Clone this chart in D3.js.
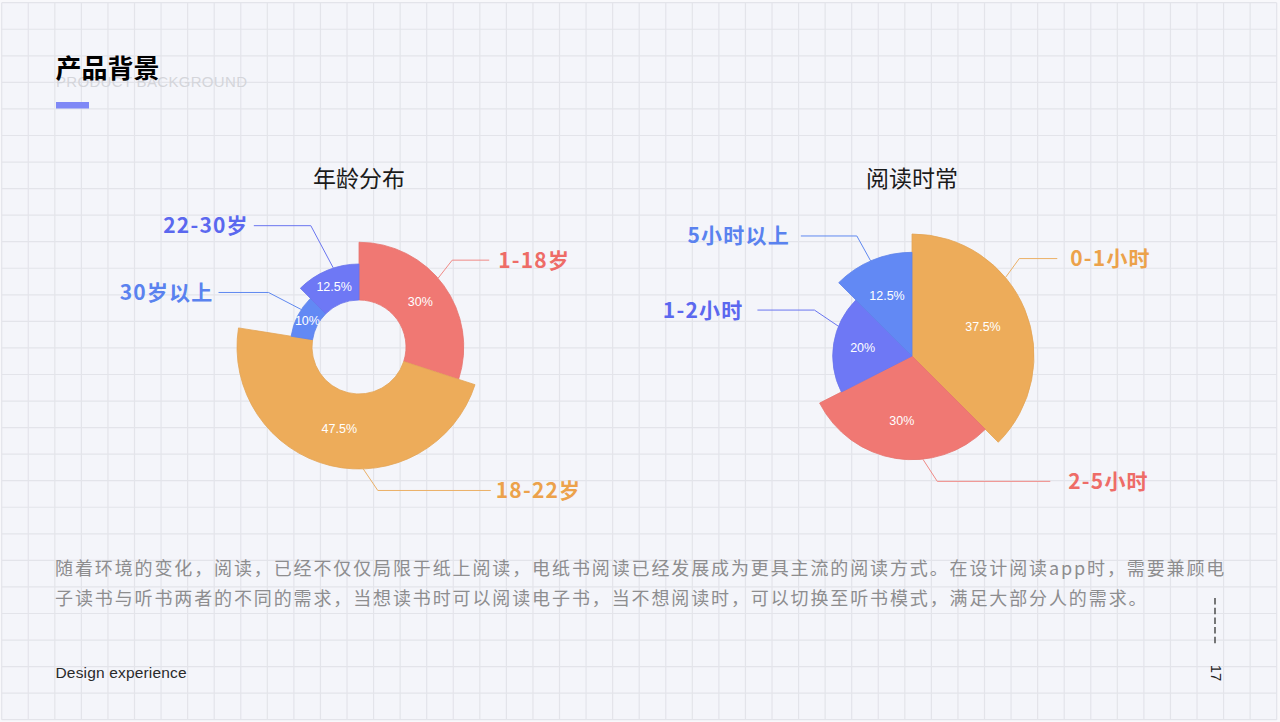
<!DOCTYPE html>
<html><head><meta charset="utf-8">
<script src="https://cdn.jsdelivr.net/npm/d3@7"></script>
<style>html,body{margin:0;padding:0;background:#f8f8fb;} svg{display:block;}</style>
</head><body>
<svg id="c" width="1280" height="722"></svg>
<script>
// ---------- data ----------
const ageCategories = ["1-18岁", "18-22岁", "30岁以上", "22-30岁"];
const agePercent = [30, 47.5, 10, 12.5];
const ageRose = [77, 100, 29, 48];          // rose radius magnitude
const timeCategories = ["0-1小时", "2-5小时", "1-2小时", "5小时以上"];
const timePercent = [37.5, 30, 20, 12.5];
const timeRose = [100, 85, 65, 85];         // rose radius magnitude
const chartTitles = ["年龄分布", "阅读时常"];
const pageTitle = "产品背景";
const pageSubtitle = "PRODUCT BACKGROUND";
const paragraphLines = [
  "随着环境的变化，阅读，已经不仅仅局限于纸上阅读，电纸书阅读已经发展成为更具主流的阅读方式。在设计阅读app时，需要兼顾电",
  "子读书与听书两者的不同的需求，当想读书时可以阅读电子书，当不想阅读时，可以切换至听书模式，满足大部分人的需求。"
];
const footerText = "Design experience";
const pageNumber = "17";

// ---------- styles ----------
const C = {red:"#f07873", orange:"#edac5a", indigo:"#6e78f5", blue:"#6289f4"};
const TXT = {red:"#ee6c67", orange:"#eca24b", indigo:"#5b68ef", blue:"#5a82ef"};
const LINE = {red:"#f08a86", orange:"#ebb067", indigo:"#6a75f0", blue:"#5f88f0"};
const CJK = "'Noto Sans CJK SC','Noto Sans',sans-serif";

const svg = d3.select("#c");

// ---------- grid background ----------
const gx0 = 1.7, gy0 = 2.7, stepX = 1275/48, stepY = 717/27;
const xs = d3.range(49).map(i => gx0 + i*stepX);
const ys = d3.range(28).map(i => gy0 + i*stepY);
svg.append("rect").attr("x", gx0).attr("y", gy0)
  .attr("width", xs[48]-gx0).attr("height", ys[27]-gy0).attr("fill", "#f4f5fa");
const grid = svg.append("g").attr("stroke", "#e3e4ea").attr("stroke-width", 1.2);
grid.selectAll("line.v").data(xs).join("line").attr("class","v")
  .attr("x1", d=>d).attr("x2", d=>d).attr("y1", gy0).attr("y2", ys[27]);
grid.selectAll("line.h").data(ys).join("line").attr("class","h")
  .attr("y1", d=>d).attr("y2", d=>d).attr("x1", gx0).attr("x2", xs[48]);

// ---------- header ----------
svg.append("text").attr("x", 56).attr("y", 81).text(pageSubtitle)
  .attr("font-family", "'Liberation Sans',Arial,sans-serif").attr("font-size", 15)
  .attr("fill", "#d4d5da").attr("textLength", 191).attr("dominant-baseline", "central");
svg.append("text").attr("x", 55.5).attr("y", 66).text(pageTitle)
  .attr("font-family", CJK).attr("font-weight", 700).attr("font-size", 26)
  .attr("fill", "#000").attr("dominant-baseline", "central");
svg.append("rect").attr("x", 56).attr("y", 102).attr("width", 33).attr("height", 6.5).attr("fill", "#7f88f6");

// ---------- charts ----------
function polar(cx, cy, deg, r){ const a = deg*Math.PI/180; return [cx + r*Math.sin(a), cy - r*Math.cos(a)]; }

function drawRose(cfg){
  const data = cfg.cats.map((c,i) => ({c, p:cfg.pct[i], m:cfg.rose[i]}));
  const pie = d3.pie().sort(null).value(d => d.p);
  const rScale = d3.scaleLinear().domain([0,100]).range([cfg.r0, cfg.r1]);
  const arcs = pie(data);
  const arc = d3.arc().innerRadius(cfg.r0).outerRadius(d => rScale(d.data.m));
  const g = svg.append("g").attr("transform", `translate(${cfg.cx},${cfg.cy})`);
  g.selectAll("path.s").data(arcs).join("path").attr("class","s")
    .attr("d", arc)
    .attr("fill", d => C[cfg.color[d.data.c]])
    .attr("stroke", d => d3.color(C[cfg.color[d.data.c]]).darker(0.12))
    .attr("stroke-width", 0.8);
  // percent labels
  g.selectAll("text.p").data(arcs).join("text").attr("class","p")
    .attr("transform", d => {
      let p;
      if (cfg.r0 > 0) p = arc.centroid(d);
      else { const mid = (d.startAngle + d.endAngle)/2*180/Math.PI; p = polar(0,0,mid, rScale(d.data.m)*0.63); }
      return `translate(${p[0]},${p[1]})`;
    })
    .attr("text-anchor","middle").attr("dominant-baseline","central")
    .attr("font-family","'Liberation Sans',Arial,sans-serif").attr("font-size", 12.5)
    .attr("fill","#fff").text(d => d.data.p + "%");
  // leader lines + category labels
  arcs.forEach(d => {
    const L = cfg.leader[d.data.c];
    const r = rScale(d.data.m);
    const p0 = polar(cfg.cx, cfg.cy, L.a, r);
    const p1 = polar(p0[0], p0[1], L.b, L.len1);
    const p2 = [p1[0] + L.len2, p1[1]];
    svg.append("path").attr("d", d3.line()([p0,p1,p2]))
      .attr("fill","none").attr("stroke", LINE[cfg.color[d.data.c]]).attr("stroke-width", 1);
    const right = L.len2 > 0;
    svg.append("text").attr("x", p2[0] + (right ? L.gap : -L.gap)).attr("y", p2[1] - 1.5)
      .attr("text-anchor", right ? "start" : "end").attr("dominant-baseline","central")
      .attr("font-family", CJK).attr("font-weight", 700).attr("font-size", 21)
      .attr("letter-spacing", 1.2)
      .attr("fill", TXT[cfg.color[d.data.c]]).text(d.data.c);
  });
  svg.append("text").attr("x", cfg.cx).attr("y", 176.5).text(cfg.title)
    .attr("text-anchor","middle").attr("dominant-baseline","central")
    .attr("font-family", CJK).attr("font-size", 23).attr("fill", "#1b1b1b");
}

drawRose({
  cx: 359, cy: 347, r0: 47, r1: 122, title: chartTitles[0],
  cats: ageCategories, pct: agePercent, rose: ageRose,
  color: {"1-18岁":"red", "18-22岁":"orange", "30岁以上":"blue", "22-30岁":"indigo"},
  leader: {
    "1-18岁":  {a:49,  b:38,    len1:23, len2:37,   gap:9},
    "18-22岁": {a:178, b:146,   len1:26, len2:113,  gap:5},
    "30岁以上": {a:303, b:297.5, len1:37, len2:-50,  gap:5},
    "22-30岁": {a:342, b:332,   len1:48, len2:-57,  gap:5}
  }
});
drawRose({
  cx: 912, cy: 356, r0: 0, r1: 122, title: chartTitles[1],
  cats: timeCategories, pct: timePercent, rose: timeRose,
  color: {"0-1小时":"orange", "2-5小时":"red", "1-2小时":"indigo", "5小时以上":"blue"},
  leader: {
    "0-1小时":  {a:50,    b:36,  len1:23.5, len2:38,  gap:13},
    "2-5小时":  {a:174,   b:147, len1:26.5, len2:113, gap:18},
    "1-2小时":  {a:292,   b:304, len1:29,   len2:-57, gap:14},
    "5小时以上": {a:336.5, b:331, len1:28.5, len2:-56, gap:11}
  }
});

// ---------- paragraph ----------
const para = svg.append("text").attr("font-family", CJK).attr("font-size", 18)
  .attr("letter-spacing", 1.88).attr("fill", "#8d8d8f");
paragraphLines.forEach((t,i) => {
  para.append("tspan").attr("x", 55).attr("y", 567 + i*30).attr("dominant-baseline","central").text(t);
});

// ---------- footer ----------
svg.append("text").attr("x", 55.5).attr("y", 672).attr("dominant-baseline","central")
  .attr("font-family","'Liberation Sans',Arial,sans-serif").attr("font-size", 15.5)
  .attr("textLength", 131).attr("fill","#2a2a2a").text(footerText);
svg.append("line").attr("x1", 1215).attr("x2", 1215).attr("y1", 598).attr("y2", 645)
  .attr("stroke","#333").attr("stroke-width", 1.3).attr("stroke-dasharray","6.5,3.2");
svg.append("text").attr("transform","translate(1216,673) rotate(90)")
  .attr("text-anchor","middle").attr("dominant-baseline","central")
  .attr("font-family","'Liberation Sans',Arial,sans-serif").attr("font-size", 15)
  .attr("fill","#222").text(pageNumber);
</script>
</body></html>
